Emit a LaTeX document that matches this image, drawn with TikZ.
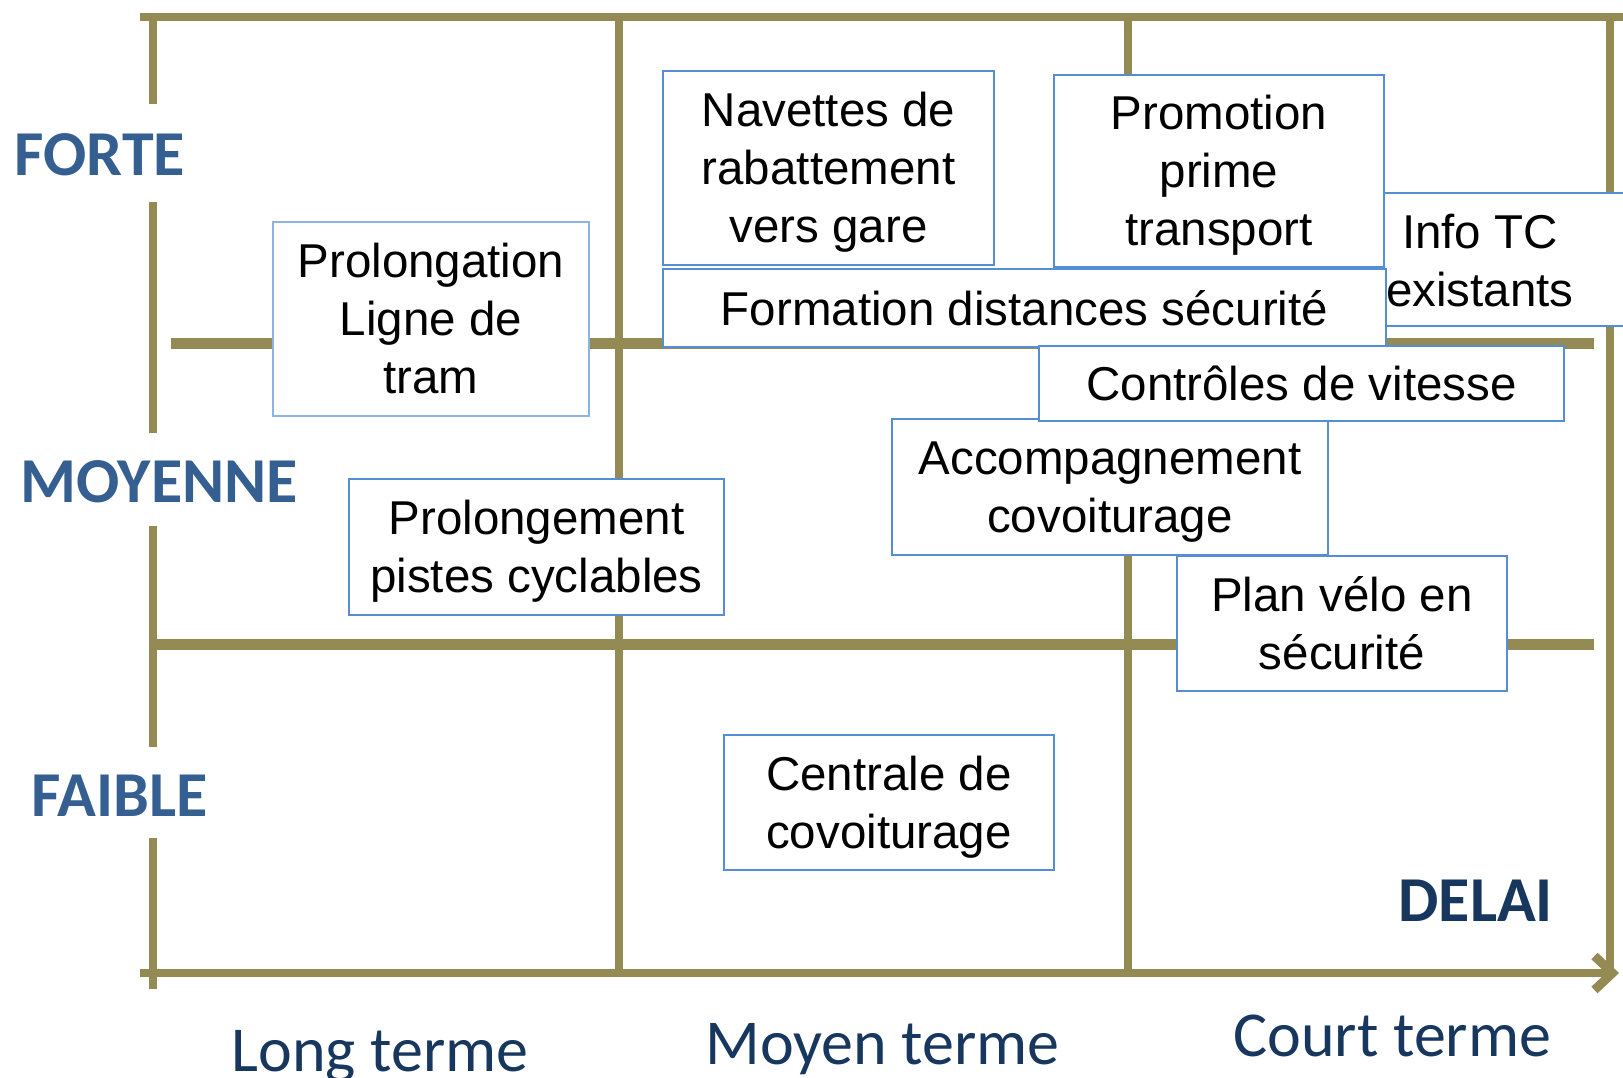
\documentclass[tikz,border=0pt]{standalone}
\usepackage{fontspec}
\setmainfont{Liberation Sans}
\newfontfamily\calibri{Carlito}
\usetikzlibrary{arrows.meta}
\definecolor{gridolive}{HTML}{948A54}
\definecolor{levelblue}{HTML}{365F91}
\definecolor{delainavy}{HTML}{17375E}
\definecolor{boxblue}{HTML}{558ED5}
\definecolor{boxlight}{HTML}{8DB3E2}
\newcommand\topstrut{\rule{0pt}{43pt}}
\begin{document}
\begin{tikzpicture}[x=1pt,y=-1pt,
  grid/.style={gridolive,line width=7.5pt},
  gridthick/.style={gridolive,line width=11pt},
  ideatext/.style={align=center,inner sep=0pt,font=\fontsize{47.5}{58}\selectfont},
  idea/.style={ideatext,draw=boxblue,line width=2pt,fill=white},
  level/.style={anchor=base west,text=levelblue,font=\calibri\bfseries\fontsize{64}{70}\selectfont},
  term/.style={anchor=base west,text=delainavy,font=\calibri\fontsize{64}{70}\selectfont}]
\useasboundingbox (0,0) rectangle (1623,1077);
% grid
\draw[grid] (140,17) -- (1623,17);
\draw[grid] (153,17) -- (153,104);
\draw[grid] (153,202) -- (153,433);
\draw[grid] (153,526) -- (153,747);
\draw[grid] (153,838) -- (153,989);
\draw[grid] (619,17) -- (619,973);
\draw[grid] (1128,17) -- (1128,973);
\draw[grid] (1610,17) -- (1610,973);
\draw[gridthick] (171,343) -- (1594,343);
\draw[gridthick] (153,644) -- (1594,644);
\draw[grid,-{Straight Barb[length=18pt,width=34pt,line width=9pt]}] (140,973) -- (1619,973);
% levels and delays
\node[level] (forte) at (11,175) {FORTE};
\node[level] (moyenne) at (17,502) {MOYENNE};
\node[level] (faible) at (28,816) {FAIBLE};
\node[level,text=delainavy] (delai) at (1395,921) {DELAI};
\node[term] (long) at (228,1071) {Long terme};
\node[term] (moyen) at (702,1064) {Moyen terme};
\node[term] (court) at (1230,1056) {Court terme};
% actions
\node[idea,draw=boxlight,minimum width=316pt,minimum height=194pt] (tram) at (431,319) {Prolongation\\Ligne de\\tram};
\node[idea,minimum width=375pt,minimum height=136pt] (pistes) at (536.5,547) {\topstrut Prolongement\\pistes cyclables};
\node[idea,minimum width=330pt,minimum height=135pt] (centrale) at (889,802.5) {\topstrut Centrale de\\covoiturage};
\node[idea,minimum width=331pt,minimum height=194pt] (navettes) at (828.5,168) {\topstrut Navettes de\\rabattement\\vers gare};
\node[idea,minimum width=330pt,minimum height=192pt] (prime) at (1219,171) {\topstrut Promotion\\prime\\transport};
\draw[idea] (1384,193) rectangle (1660,326);
\node[ideatext] (info) at (1480,261) {Info TC\\existants};
\node[idea,minimum width=723pt,minimum height=78pt] (formation) at (1024.5,308) {Formation distances sécurité};
\node[idea,minimum width=436pt,minimum height=136pt] (accomp) at (1110,487) {\topstrut Accompagnement\\covoiturage};
\node[idea,minimum width=525pt,minimum height=75pt] (vitesse) at (1301.5,383.5) {Contrôles de vitesse};
\node[idea,minimum width=330pt,minimum height=135pt] (velo) at (1342,623.5) {Plan vélo en\\sécurité};
\end{tikzpicture}
\end{document}
